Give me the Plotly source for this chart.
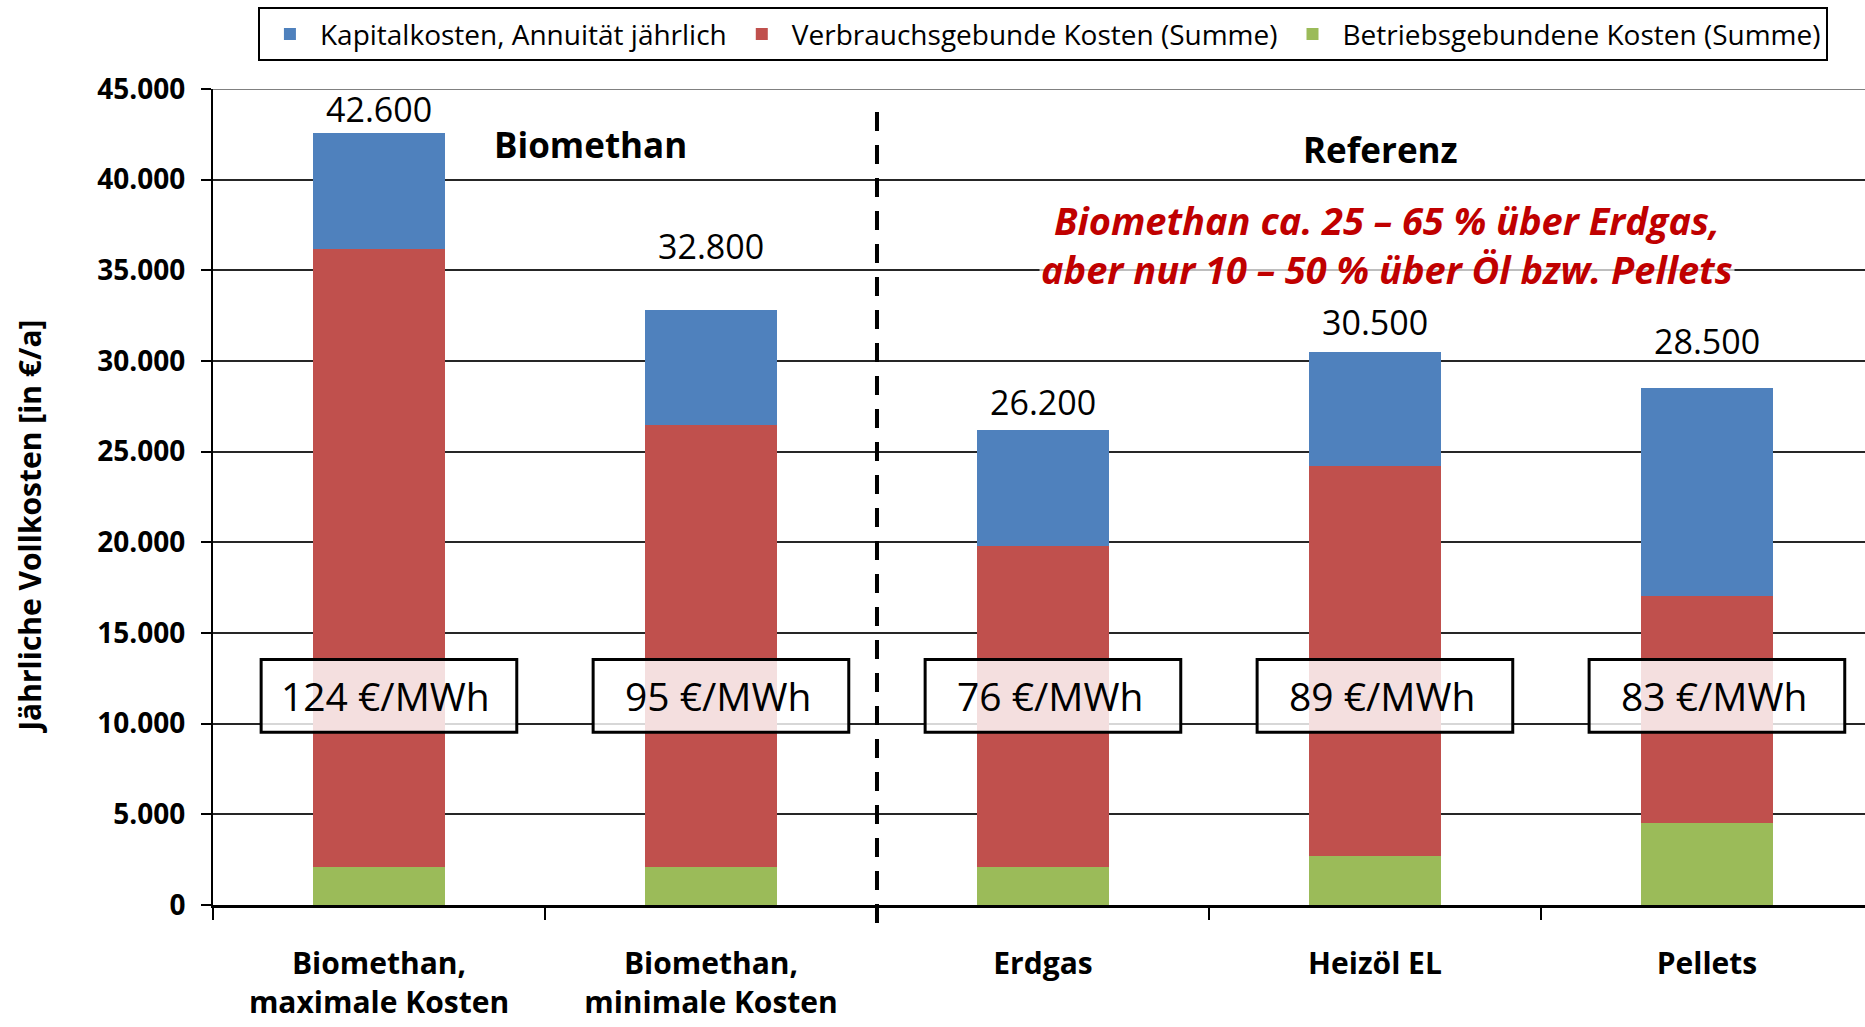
import plotly.graph_objects as go

categories = ["Biomethan,<br>maximale Kosten", "Biomethan,<br>minimale Kosten", "Erdgas", "Heizöl EL", "Pellets"]
betrieb = [2100, 2100, 2100, 2700, 4500]          # Betriebsgebundene Kosten (Summe)
verbrauch = [34050, 24350, 17700, 21500, 12550]   # Verbrauchsgebunde Kosten (Summe)
kapital = [6450, 6350, 6400, 6300, 11450]         # Kapitalkosten, Annuität jährlich
preise = ["124 €/MWh", "95 €/MWh", "76 €/MWh", "89 €/MWh", "83 €/MWh"]
y_ticks = [0, 5000, 10000, 15000, 20000, 25000, 30000, 35000, 40000, 45000]

totals = [b + v + k for b, v, k in zip(betrieb, verbrauch, kapital)]

FONT = "Open Sans"
BLUE, RED, GREEN = "#4F81BD", "#C0504D", "#9BBB59"

fig = go.Figure()
fig.add_trace(go.Bar(x=categories, y=betrieb, name="Betriebsgebundene Kosten (Summe)",
                     marker=dict(color=GREEN, line=dict(width=0))))
fig.add_trace(go.Bar(x=categories, y=verbrauch, name="Verbrauchsgebunde Kosten (Summe)",
                     marker=dict(color=RED, line=dict(width=0))))
fig.add_trace(go.Bar(x=categories, y=kapital, name="Kapitalkosten, Annuität jährlich",
                     marker=dict(color=BLUE, line=dict(width=0))))

# total labels above the bars
label_shift = [24, 64, 28, 30, 47]
for i, t in enumerate(totals):
    fig.add_annotation(x=categories[i], y=t, text=f"{t:,}".replace(",", "."),
                       showarrow=False, yanchor="middle", yshift=label_shift[i],
                       font=dict(family=FONT, size=34, color="black"))

# price boxes
box_lo, box_hi = 9530, 13540
for i, p in enumerate(preise):
    c = i + 0.03
    fig.add_shape(type="rect", xref="x", yref="y", x0=c - 0.385, x1=c + 0.385,
                  y0=box_lo, y1=box_hi, layer="above",
                  line=dict(color="black", width=3), fillcolor="rgba(255,255,255,0.82)")
    fig.add_annotation(x=c - 0.01, y=(box_lo + box_hi) / 2, xref="x", yref="y", text=p,
                       showarrow=False, font=dict(family=FONT, size=39, color="black"))

# lighter top border line of the plot area
fig.add_shape(type="line", xref="paper", yref="y", x0=0, x1=1, y0=y_ticks[-1], y1=y_ticks[-1],
              line=dict(color="#808080", width=2), layer="above")

# dashed separator
fig.add_shape(type="line", xref="x", yref="paper", x0=1.5, x1=1.5, y0=-0.022, y1=0.98,
              line=dict(color="black", width=4, dash="19px,14px"), layer="above")

fig.add_annotation(x=0.636, y=41930, xref="x", yref="y", text="<b>Biomethan</b>",
                   showarrow=False, font=dict(family=FONT, size=35, color="black"))
fig.add_annotation(x=3.018, y=41650, xref="x", yref="y", text="<b>Referenz</b>",
                   showarrow=False, font=dict(family=FONT, size=35, color="black"))
fig.add_annotation(x=3.036, y=36400, xref="x", yref="y",
                   text="<b><i>Biomethan ca. 25 – 65 % über Erdgas,<br>aber nur 10 – 50 % über Öl bzw. Pellets</i></b>",
                   showarrow=False, bgcolor="rgba(255,255,255,0.7)",
                   font=dict(family=FONT, size=38, color="#C00000"))

# y-axis title (placed as rotated text, centred as in the original)
fig.add_annotation(x=-0.111, y=0.463, xref="paper", yref="paper", xanchor="center", yanchor="middle",
                   text="<b>Jährliche Vollkosten [in €/a]</b>", textangle=-90, showarrow=False,
                   font=dict(family=FONT, size=30, color="black"))

fig.update_layout(
    width=1865, height=1027,
    barmode="stack", bargap=0.6,
    separators=",.",
    paper_bgcolor="white", plot_bgcolor="white",
    margin=dict(l=213, r=0, t=89, b=122),
    font=dict(family=FONT, color="black"),
    showlegend=True,
    legend=dict(orientation="h", traceorder="reversed",
                xref="container", yref="container", x=0.1383, y=0.993,
                xanchor="left", yanchor="top", itemwidth=50,
                bordercolor="black", borderwidth=2, bgcolor="white",
                font=dict(family=FONT, size=28, color="black")),
    xaxis=dict(range=[-0.5, 4.476], tickson="boundaries", ticks="outside", ticklen=12,
               tickwidth=1.5, tickcolor="black", showline=True, linecolor="black", linewidth=3,
               showgrid=False, ticklabelstandoff=30,
               tickfont=dict(family=FONT, size=30, color="black", weight="bold")),
    yaxis=dict(range=[0, 45000], tickvals=y_ticks, tickformat=",.0f",
               ticks="outside", ticklen=10, tickwidth=1.5, tickcolor="black",
               showline=True, linecolor="black", linewidth=2,
               showgrid=True, gridcolor="#262626", gridwidth=1.5,
               zeroline=False, ticklabelstandoff=10,
               tickfont=dict(family=FONT, size=28, color="black", weight="bold")),
)

fig.write_html("out.html", config={"displayModeBar": False},
               post_script="document.body.style.margin='0';document.body.style.overflow='hidden';")
